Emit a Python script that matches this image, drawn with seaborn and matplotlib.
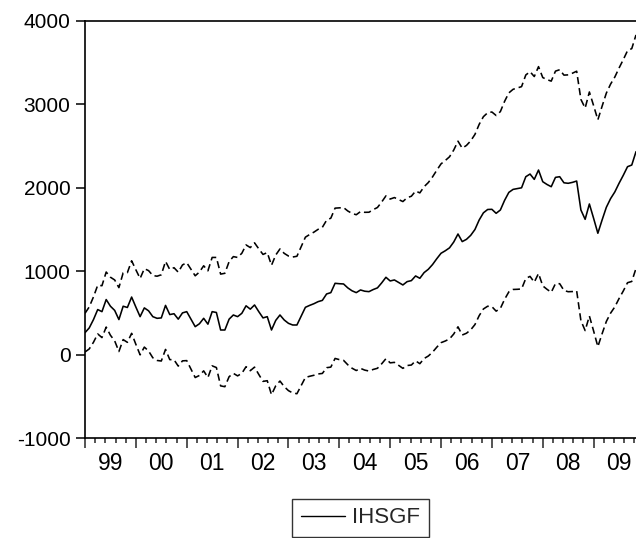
import numpy as np
import pandas as pd
import matplotlib
matplotlib.use("Agg")
import matplotlib.pyplot as plt
import matplotlib.transforms as mtransforms
from matplotlib.ticker import FixedLocator, NullFormatter
import seaborn as sns

# ---- data (monthly, 1999M01 .. 2009M11) ----
years = ["99", "00", "01", "02", "03", "04", "05", "06", "07", "08", "09"]
forecast = [263, 320, 420, 540, 515, 660, 580, 530, 420, 580,
            565, 690, 570, 455, 560, 525, 455, 435, 440, 590,
            480, 490, 425, 500, 515, 425, 335, 370, 435, 365,
            515, 505, 295, 295, 425, 475, 455, 495, 585, 545,
            595, 515, 440, 455, 295, 410, 475, 415, 375, 355,
            355, 460, 567, 590, 610, 635, 650, 727, 743, 855,
            850, 847, 800, 765, 743, 775, 760, 755, 780, 800,
            860, 927, 883, 895, 865, 835, 875, 887, 943, 915,
            983, 1023, 1080, 1150, 1215, 1245, 1280, 1350, 1446, 1355,
            1382, 1430, 1500, 1614, 1700, 1740, 1742, 1694, 1734, 1850,
            1945, 1981, 1990, 2000, 2133, 2165, 2101, 2213, 2073, 2040,
            2013, 2125, 2133, 2060, 2054, 2065, 2081, 1734, 1622, 1806,
            1634, 1455, 1614, 1766, 1870, 1950, 2054, 2150, 2253, 2273,
            2433]
# half width of the +/- 2 S.E. band
band = [232, 252, 272, 292, 311, 330,
        348, 365, 383, 400, 418, 435,
        447, 458, 470, 482, 493, 505, 517, 528, 540, 552, 563, 575, 587, 598, 610,
        620, 630, 640, 650, 660, 670, 680, 690, 700, 710, 720, 730,
        738, 745, 753, 761, 768, 776, 784, 792, 799, 807, 815,
        824, 832, 841, 850, 858, 867, 876, 884, 893, 901, 910,
        916, 922, 928, 934, 940, 946, 952, 958, 964, 970, 976, 982, 988, 994,
        1000, 1006, 1012, 1018, 1024, 1030,
        1040, 1051, 1061, 1072, 1082, 1092, 1103, 1113,
        1120, 1126, 1133, 1140, 1147, 1153, 1160, 1167, 1173, 1180, 1187, 1193,
        1200, 1207, 1213, 1220, 1227, 1233, 1240,
        1249, 1257, 1266, 1274, 1283, 1291, 1300, 1309, 1317, 1326, 1334, 1343,
        1351, 1360,
        1364, 1369, 1373, 1378, 1382, 1387, 1391, 1396, 1400]
yticks = [-1000, 0, 1000, 2000, 3000, 4000]

df = pd.DataFrame({"obs": np.arange(len(forecast)),
                   "IHSGF": forecast,
                   "band": band})
df["upper"] = df["IHSGF"] + df["band"]
df["lower"] = df["IHSGF"] - df["band"]

sns.set_style("ticks")
plt.rcParams["font.family"] = ["Liberation Sans", "DejaVu Sans"]

W, H = 636, 538
fig = plt.figure(figsize=(W / 100, H / 100), dpi=100)
ax = fig.add_axes([85 / W, 1 - 438 / H, (W - 85) / W, (438 - 21) / H])

dash = (0, (4.5, 2.5))
sns.lineplot(data=df, x="obs", y="upper", ax=ax, color="black", lw=1.15,
             linestyle=dash, legend=False)
sns.lineplot(data=df, x="obs", y="lower", ax=ax, color="black", lw=1.15,
             linestyle=dash, legend=False)
sns.lineplot(data=df, x="obs", y="IHSGF", ax=ax, color="black", lw=1.15,
             label="IHSGF")

ax.set_xlim(0, len(forecast) - 1)
ax.set_ylim(-1000, 4000)
ax.set_xlabel("")
ax.set_ylabel("")

# y axis
ax.set_yticks(yticks)
ax.set_yticklabels([str(v) for v in yticks])
ax.tick_params(axis="y", direction="out", length=6.5, width=1.1, pad=4,
               labelsize=15, colors="black")

# x axis: year boundaries (major), 5 subdivisions (minor)
majors = [12 * i for i in range(len(years))]
minors = [12 * i + 2.4 * k for i in range(len(years)) for k in range(1, 5)]
ax.xaxis.set_major_locator(FixedLocator(majors))
ax.xaxis.set_minor_locator(FixedLocator([m for m in minors if m <= len(forecast) - 1]))
ax.xaxis.set_major_formatter(NullFormatter())
ax.tick_params(axis="x", which="major", direction="out", length=7.5, width=1.1)
ax.tick_params(axis="x", which="minor", direction="out", length=3.5, width=1.1)

trans = mtransforms.blended_transform_factory(ax.transData, ax.transAxes)
for i, lab in enumerate(years):
    ax.text(12 * i + 6, -(470 - 438) / 417, lab, transform=trans, ha="center",
            va="baseline", fontsize=16.5, color="black")

for side in ["left", "top", "bottom"]:
    ax.spines[side].set_linewidth(1.2)
    ax.spines[side].set_color("black")
ax.spines["right"].set_visible(False)

leg = ax.legend(loc="upper center", bbox_to_anchor=(0.5, -(499 - 438) / 417),
                frameon=True, fancybox=False, fontsize=16, handlelength=2.0,
                handletextpad=0.32, borderpad=0.38, borderaxespad=0)
leg.get_frame().set_edgecolor("black")
leg.get_frame().set_linewidth(1.0)
for h in leg.get_lines():
    h.set_linewidth(1.0)

fig.savefig("out.png", dpi=100)
